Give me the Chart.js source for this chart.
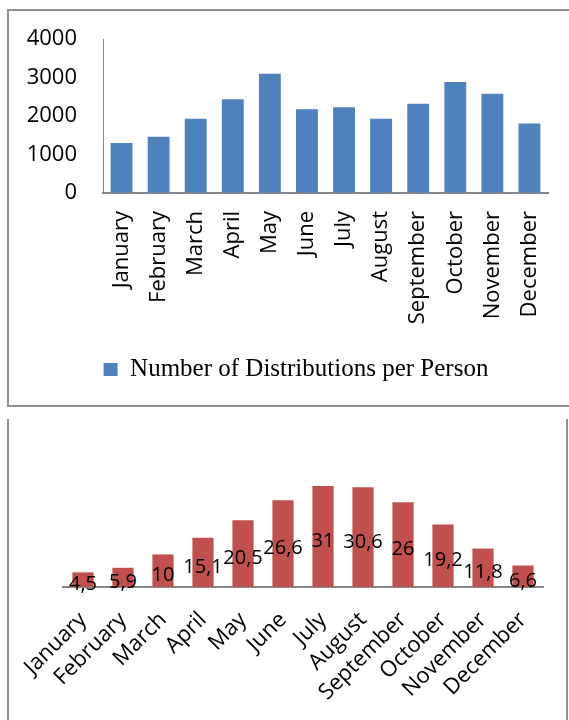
<!DOCTYPE html>
<html>
<head>
<meta charset="utf-8">
<script src="https://cdn.jsdelivr.net/npm/chart.js@4.4.0/dist/chart.umd.min.js"></script>
<style>
html, body { margin: 0; padding: 0; background: #fff; width: 569px; height: 720px; overflow: hidden; position: relative; }
.box1 { position: absolute; left: 7px; top: 9px; width: 620px; height: 398px; border: 2px solid #8f8f8f; box-sizing: border-box; }
.box2 { position: absolute; left: 7px; top: 419px; width: 561px; height: 320px; border-left: 2px solid #8f8f8f; border-right: 2px solid #8f8f8f; box-sizing: border-box; }
#topChart { position: absolute; left: 0; top: 0; }
#bottomChart { position: absolute; left: 0; top: 419px; }
</style>
</head>
<body>
<div class="box1"></div>
<div class="box2"></div>
<canvas id="topChart" width="592" height="407"></canvas>
<canvas id="bottomChart" width="569" height="301"></canvas>
<script>
var months = ['January', 'February', 'March', 'April', 'May', 'June', 'July', 'August', 'September', 'October', 'November', 'December'];
var distributions = [1300, 1460, 1930, 2440, 3100, 2180, 2230, 1930, 2320, 2890, 2580, 1810];
var distributionsLabel = 'Number of Distributions per Person';
var yMin = 0;
var yMax = 4000;
var yStep = 1000;
var bottomValues = [4.5, 5.9, 10, 15.1, 20.5, 26.6, 31, 30.6, 26, 19.2, 11.8, 6.6];

var axisGrey = '#868686';
var sansFont = 'Open Sans';

// writes the value in the middle of each bar, with a comma as decimal mark
var barLabels = {
    id: 'barLabels',
    afterDatasetsDraw: function (chart) {
        var ctx = chart.ctx;
        var meta = chart.getDatasetMeta(0);
        ctx.save();
        ctx.font = '20px "' + sansFont + '"';
        ctx.fillStyle = '#000';
        ctx.textAlign = 'center';
        ctx.textBaseline = 'middle';
        for (var i = 0; i < meta.data.length; i++) {
            var bar = meta.data[i];
            var text = String(bottomValues[i]).replace('.', ',');
            ctx.fillText(text, bar.x, (bar.y + bar.base) / 2 + 5);
        }
        ctx.restore();
    }
};

new Chart(document.getElementById('topChart').getContext('2d'), {
    type: 'bar',
    data: {
        labels: months,
        datasets: [{
            label: distributionsLabel,
            data: distributions,
            backgroundColor: '#4f81bd',
            borderWidth: 0,
            barPercentage: 0.59,
            categoryPercentage: 1
        }]
    },
    options: {
        responsive: false,
        animation: false,
        layout: { padding: { left: 0, right: 0, top: 39, bottom: 15 } },
        scales: {
            x: {
                grid: { color: 'rgba(0,0,0,0)', drawTicks: false },
                border: { color: axisGrey, width: 2 },
                ticks: {
                    color: '#000',
                    font: { family: sansFont, size: 22 },
                    minRotation: 90,
                    maxRotation: 90,
                    autoSkip: false,
                    padding: 18
                },
                afterFit: function (s) { s.height = 154; }
            },
            y: {
                min: yMin,
                max: yMax,
                grid: { color: 'rgba(0,0,0,0)', drawTicks: false },
                border: { color: axisGrey, width: 1 },
                ticks: {
                    stepSize: yStep,
                    color: '#000',
                    font: { family: sansFont, size: 22 },
                    padding: 26,
                    callback: function (value) { return String(value); }
                },
                afterFit: function (s) { s.width = 103; }
            },
            // empty spacer on the right so the legend sits where it does in the picture
            yRight: {
                position: 'right',
                min: yMin,
                max: yMax,
                grid: { display: false },
                border: { display: false },
                ticks: { display: false },
                afterFit: function (s) { s.width = 44; }
            }
        },
        plugins: {
            legend: {
                position: 'bottom',
                labels: {
                    boxWidth: 14,
                    boxHeight: 13,
                    padding: 10,
                    color: '#000',
                    font: { family: 'Liberation Serif', size: 25 }
                }
            },
            tooltip: { enabled: false }
        }
    }
});

new Chart(document.getElementById('bottomChart').getContext('2d'), {
    type: 'bar',
    data: {
        labels: months,
        datasets: [{
            data: bottomValues,
            backgroundColor: '#c0504d',
            borderWidth: 0,
            barPercentage: 0.53,
            categoryPercentage: 1
        }]
    },
    plugins: [barLabels],
    options: {
        responsive: false,
        animation: false,
        layout: { padding: { left: 63, right: 26, top: 54, bottom: 0 } },
        scales: {
            x: {
                grid: { color: 'rgba(0,0,0,0)', drawTicks: false },
                border: { color: axisGrey, width: 2 },
                ticks: {
                    color: '#000',
                    font: { family: sansFont, size: 22 },
                    minRotation: 45,
                    maxRotation: 45,
                    autoSkip: false,
                    padding: 20
                },
                afterFit: function (s) { s.height = 133; }
            },
            y: {
                display: false,
                min: 0,
                max: 35
            }
        },
        plugins: {
            legend: { display: false },
            tooltip: { enabled: false }
        }
    }
});
</script>
</body>
</html>
